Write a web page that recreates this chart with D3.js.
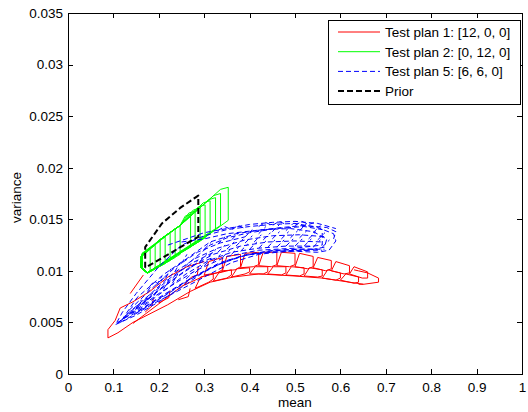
<!DOCTYPE html>
<html>
<head>
<meta charset="utf-8">
<script src="https://cdn.jsdelivr.net/npm/d3@7"></script>
<style>
  body { margin: 0; background: #fff; }
  text { font-family: 'Liberation Sans', Arial, sans-serif; fill: #000; }
</style>
</head>
<body>
<div id="chart"></div>
<script>
const xTicks = [0, 0.1, 0.2, 0.3, 0.4, 0.5, 0.6, 0.7, 0.8, 0.9, 1]
const yTicks = [0, 0.005, 0.01, 0.015, 0.02, 0.025, 0.03, 0.035]
const xLabel = 'mean'
const yLabel = 'variance'

const seriesNames = ['Test plan 1: [12, 0, 0]', 'Test plan 2: [0, 12, 0]', 'Test plan 5: [6, 6, 0]', 'Prior']

// each string is one outline: "mean,variance mean,variance ..."
const plan1Paths = [
  '0.110,0.0040 0.088,0.0035 0.088,0.0043 0.104,0.0052 0.115,0.0064 0.143,0.0070',
  '0.110,0.0040 0.143,0.0050 0.219,0.0067 0.269,0.0080 0.313,0.0089 0.364,0.0094 0.420,0.0097 0.500,0.0095 0.560,0.0093 0.620,0.0089 0.651,0.0087',
  '0.137,0.0078 0.166,0.0096',
  '0.143,0.0049 0.200,0.0068 0.250,0.0085 0.300,0.0095 0.346,0.0100',
  '0.143,0.0070 0.180,0.0080 0.220,0.0094 0.262,0.0104 0.300,0.0109',
  '0.243,0.0072 0.265,0.0075 0.269,0.0083',
  '0.200,0.0069 0.222,0.0074 0.225,0.0081',
  '0.170,0.0060 0.185,0.0066 0.188,0.0073',
  '0.255,0.0086 0.272,0.0094 0.285,0.0096 0.287,0.0104',
  '0.300,0.0096 0.310,0.0109 0.340,0.0113 0.340,0.0101 0.328,0.0098 0.300,0.0096',
  '0.340,0.0100 0.350,0.0114 0.380,0.0116 0.380,0.0104 0.368,0.0101 0.340,0.0100',
  '0.380,0.0103 0.390,0.0117 0.420,0.0118 0.420,0.0106 0.408,0.0104 0.380,0.0103',
  '0.420,0.0105 0.430,0.0118 0.460,0.0118 0.460,0.0106 0.448,0.0104 0.420,0.0105',
  '0.460,0.0105 0.470,0.0118 0.500,0.0117 0.500,0.0106 0.488,0.0104 0.460,0.0105',
  '0.500,0.0104 0.510,0.0117 0.540,0.0114 0.540,0.0104 0.528,0.0102 0.500,0.0104',
  '0.540,0.0103 0.550,0.0113 0.580,0.0110 0.580,0.0102 0.568,0.0100 0.540,0.0103',
  '0.580,0.0100 0.590,0.0109 0.620,0.0105 0.620,0.0098 0.608,0.0097 0.580,0.0100',
  '0.620,0.0097 0.630,0.0104 0.660,0.0099 0.660,0.0093 0.648,0.0093 0.620,0.0097',
  '0.280,0.0083 0.292,0.0094 0.320,0.0097 0.320,0.0092 0.310,0.0089 0.280,0.0083',
  '0.320,0.0090 0.332,0.0098 0.360,0.0101 0.360,0.0096 0.350,0.0093 0.320,0.0090',
  '0.360,0.0094 0.372,0.0102 0.400,0.0103 0.400,0.0099 0.390,0.0097 0.360,0.0094',
  '0.400,0.0097 0.412,0.0104 0.440,0.0104 0.440,0.0099 0.430,0.0097 0.400,0.0097',
  '0.440,0.0097 0.452,0.0104 0.480,0.0104 0.480,0.0098 0.470,0.0096 0.440,0.0097',
  '0.480,0.0096 0.492,0.0104 0.520,0.0103 0.520,0.0097 0.510,0.0095 0.480,0.0096',
  '0.520,0.0095 0.532,0.0103 0.560,0.0101 0.560,0.0095 0.550,0.0094 0.520,0.0095',
  '0.560,0.0093 0.572,0.0101 0.600,0.0098 0.600,0.0093 0.590,0.0091 0.560,0.0093',
  '0.600,0.0091 0.612,0.0097 0.640,0.0094 0.640,0.0089 0.630,0.0088 0.600,0.0091',
  '0.630,0.0101 0.640,0.0100 0.660,0.0098 0.684,0.0093 0.684,0.0089 0.651,0.0087 0.640,0.0087'
]

const plan2Paths = [
  '0.161,0.0103 0.161,0.0113 0.181,0.0121 0.181,0.0100 0.174,0.0098 0.161,0.0103',
  '0.161,0.0103 0.161,0.0114 0.192,0.0125 0.192,0.0102 0.174,0.0098 0.161,0.0103',
  '0.162,0.0103 0.162,0.0115 0.203,0.0129 0.203,0.0105 0.174,0.0098 0.162,0.0103',
  '0.162,0.0103 0.162,0.0116 0.214,0.0133 0.214,0.0107 0.175,0.0098 0.162,0.0103',
  '0.163,0.0103 0.163,0.0116 0.225,0.0137 0.225,0.0110 0.175,0.0098 0.163,0.0103',
  '0.163,0.0103 0.163,0.0117 0.236,0.0141 0.236,0.0113 0.176,0.0098 0.163,0.0103',
  '0.164,0.0103 0.164,0.0117 0.247,0.0144 0.247,0.0116 0.176,0.0098 0.164,0.0103',
  '0.161,0.0103 0.161,0.0114 0.205,0.0131 0.247,0.0144 0.258,0.0153 0.270,0.0155 0.270,0.0123 0.174,0.0098 0.161,0.0103',
  '0.161,0.0103 0.161,0.0114 0.205,0.0131 0.247,0.0144 0.266,0.0156 0.280,0.0158 0.280,0.0126 0.174,0.0098 0.161,0.0103',
  '0.161,0.0103 0.161,0.0114 0.205,0.0131 0.247,0.0144 0.276,0.0159 0.291,0.0161 0.291,0.0129 0.174,0.0098 0.161,0.0103',
  '0.161,0.0103 0.161,0.0114 0.205,0.0131 0.247,0.0144 0.287,0.0162 0.302,0.0164 0.302,0.0132 0.174,0.0098 0.161,0.0103',
  '0.161,0.0103 0.161,0.0114 0.205,0.0131 0.247,0.0144 0.298,0.0166 0.313,0.0168 0.313,0.0136 0.174,0.0098 0.161,0.0103',
  '0.161,0.0103 0.161,0.0114 0.205,0.0131 0.247,0.0144 0.310,0.0169 0.325,0.0171 0.325,0.0140 0.174,0.0098 0.161,0.0103',
  '0.161,0.0103 0.161,0.0114 0.205,0.0131 0.247,0.0144 0.321,0.0173 0.336,0.0175 0.336,0.0144 0.174,0.0098 0.161,0.0103',
  '0.161,0.0103 0.161,0.0114 0.205,0.0131 0.247,0.0144 0.336,0.0179 0.353,0.0181 0.353,0.0149 0.291,0.0129 0.174,0.0098 0.161,0.0103'
]

const plan5Paths = [
  '0.105,0.0048 0.150,0.0057 0.200,0.0070 0.250,0.0084 0.300,0.0099 0.350,0.0110 0.400,0.0116 0.450,0.0118 0.500,0.0119 0.550,0.0118 0.575,0.0120 0.590,0.0129 0.585,0.0136 0.550,0.0142 0.500,0.0146 0.450,0.0145 0.400,0.0143 0.350,0.0140 0.300,0.0134 0.250,0.0125 0.200,0.0104 0.150,0.0078 0.120,0.0060 0.105,0.0048',
  '0.115,0.0050 0.196,0.0070 0.253,0.0083 0.313,0.0097 0.360,0.0108 0.420,0.0116 0.480,0.0119 0.530,0.0120 0.565,0.0123 0.570,0.0131 0.540,0.0138 0.490,0.0141 0.430,0.0140 0.370,0.0136 0.313,0.0128 0.262,0.0112 0.209,0.0096 0.152,0.0074 0.115,0.0050',
  '0.108,0.0049 0.165,0.0069 0.218,0.0088 0.262,0.0106 0.313,0.0125 0.350,0.0132 0.400,0.0137 0.460,0.0141 0.520,0.0143 0.560,0.0140 0.560,0.0125 0.500,0.0122 0.420,0.0120 0.350,0.0114 0.280,0.0100 0.200,0.0078 0.108,0.0049',
  '0.220,0.0125 0.260,0.0131 0.300,0.0137 0.350,0.0141 0.400,0.0145 0.450,0.0147 0.500,0.0148 0.550,0.0146 0.590,0.0141',
  '0.250,0.0128 0.300,0.0131 0.350,0.0136 0.410,0.0139 0.470,0.0142 0.520,0.0144 0.570,0.0142 0.590,0.0138 0.585,0.0131',
  '0.140,0.0057 0.200,0.0074 0.260,0.0090 0.320,0.0104 0.380,0.0114 0.440,0.0119 0.500,0.0121 0.550,0.0121',
  '0.150,0.0059 0.210,0.0075 0.270,0.0092 0.330,0.0106 0.390,0.0115 0.450,0.0119 0.510,0.0120 0.560,0.0120',
  '0.155,0.0061 0.215,0.0077 0.275,0.0094 0.335,0.0108 0.395,0.0116 0.455,0.0120 0.515,0.0121 0.565,0.0121',
  '0.110,0.0050 0.160,0.0064 0.210,0.0080 0.260,0.0097 0.310,0.0110 0.360,0.0118 0.420,0.0122 0.480,0.0124 0.540,0.0124',
  '0.120,0.0053 0.170,0.0070 0.220,0.0088 0.270,0.0104 0.320,0.0116 0.380,0.0124 0.440,0.0128 0.500,0.0129 0.560,0.0128',
  '0.130,0.0058 0.180,0.0077 0.230,0.0097 0.280,0.0112 0.330,0.0122 0.390,0.0130 0.450,0.0134 0.510,0.0135 0.570,0.0133',
  '0.125,0.0056 0.175,0.0074 0.225,0.0093 0.275,0.0108 0.325,0.0119',
  '0.135,0.0062 0.185,0.0083 0.235,0.0103 0.285,0.0118 0.335,0.0127 0.390,0.0133',
  '0.160,0.0067 0.200,0.0081 0.240,0.0094 0.280,0.0106 0.320,0.0113',
  '0.180,0.0085 0.190,0.0090 0.200,0.0087 0.210,0.0093 0.220,0.0091',
  '0.330,0.0139 0.345,0.0143 0.360,0.0140 0.375,0.0144 0.390,0.0141',
  '0.420,0.0143 0.435,0.0147 0.450,0.0144 0.465,0.0148 0.480,0.0145',
  '0.500,0.0144 0.515,0.0148 0.530,0.0145 0.545,0.0147',
  '0.150,0.0064 0.162,0.0072', '0.170,0.0070 0.182,0.0078', '0.190,0.0076 0.202,0.0085', '0.210,0.0082 0.222,0.0091',
  '0.230,0.0088 0.242,0.0097', '0.175,0.0080 0.187,0.0088', '0.195,0.0086 0.207,0.0095', '0.215,0.0093 0.227,0.0102',
  '0.235,0.0099 0.247,0.0108', '0.250,0.0107 0.262,0.0116',
  '0.260,0.0092 0.276,0.0099', '0.280,0.0098 0.296,0.0105', '0.300,0.0105 0.316,0.0112', '0.320,0.0109 0.336,0.0116',
  '0.340,0.0113 0.356,0.0120', '0.360,0.0116 0.376,0.0123', '0.380,0.0119 0.396,0.0126', '0.400,0.0121 0.416,0.0128',
  '0.420,0.0122 0.436,0.0129', '0.440,0.0123 0.456,0.0130', '0.460,0.0123 0.476,0.0130', '0.480,0.0124 0.496,0.0131',
  '0.500,0.0124 0.516,0.0131', '0.520,0.0124 0.536,0.0131', '0.540,0.0123 0.556,0.0130', '0.560,0.0123 0.576,0.0130',
  '0.270,0.0103 0.286,0.0110', '0.290,0.0109 0.306,0.0116', '0.310,0.0114 0.326,0.0121', '0.330,0.0118 0.346,0.0125',
  '0.350,0.0121 0.366,0.0128', '0.370,0.0124 0.386,0.0131', '0.390,0.0127 0.406,0.0134', '0.410,0.0128 0.426,0.0135',
  '0.430,0.0130 0.446,0.0137', '0.450,0.0131 0.466,0.0138', '0.470,0.0131 0.486,0.0138', '0.490,0.0132 0.506,0.0139',
  '0.510,0.0132 0.526,0.0139', '0.530,0.0131 0.546,0.0138', '0.550,0.0130 0.566,0.0137',
  '0.300,0.0121 0.316,0.0128', '0.330,0.0126 0.346,0.0133', '0.360,0.0130 0.376,0.0137', '0.390,0.0133 0.406,0.0140',
  '0.420,0.0136 0.436,0.0143', '0.450,0.0138 0.466,0.0145', '0.480,0.0139 0.496,0.0146', '0.510,0.0139 0.526,0.0146',
  '0.540,0.0137 0.556,0.0144'
]

const priorPath = '0.170,0.0103 0.170,0.0123 0.207,0.0146 0.247,0.0161 0.287,0.0173 0.287,0.0133 0.170,0.0103'

const width = 528
const height = 412
const margin = { top: 13, right: 6, bottom: 38, left: 68 }
const fontSize = '13.5px'

const parse = s => s.trim().split(/\s+/).map(p => p.split(',').map(Number))

const svg = d3.select('#chart')
  .append('svg')
    .attr('width', width)
    .attr('height', height)

svg.append('rect')
  .attr('width', width)
  .attr('height', height)
  .attr('fill', '#fff')

const x = d3.scaleLinear().domain([0, 1]).range([margin.left, width - margin.right])
const y = d3.scaleLinear().domain([0, 0.035]).range([height - margin.bottom, margin.top])

const line = d3.line()
  .x(d => x(d[0]))
  .y(d => y(d[1]))

svg.append('defs').append('clipPath')
    .attr('id', 'plot-clip')
  .append('rect')
    .attr('x', x(0))
    .attr('y', y(0.035))
    .attr('width', x(1) - x(0))
    .attr('height', y(0) - y(0.035))

const plot = svg.append('g').attr('clip-path', 'url(#plot-clip)')

const series = [
  { paths: plan1Paths, color: '#ff0000', width: 1, dash: null },
  { paths: plan2Paths, color: '#00ff00', width: 1, dash: null },
  { paths: plan5Paths, color: '#0000ff', width: 1, dash: '5,3' },
  { paths: [priorPath], color: '#000000', width: 2, dash: '6,3' }
]

series.forEach(s => {
  plot.append('g')
    .selectAll('path')
    .data(s.paths.map(parse))
    .enter().append('path')
      .attr('d', line)
      .attr('fill', 'none')
      .attr('stroke', s.color)
      .attr('stroke-width', s.width)
      .attr('stroke-dasharray', s.dash)
      .attr('stroke-linejoin', 'round')
})

// axes, ticks pointing inward on all four sides
svg.append('g')
  .attr('transform', `translate(0,${y(0)})`)
  .call(d3.axisBottom(x).tickValues(xTicks).tickSizeInner(-5).tickSizeOuter(0).tickPadding(8).tickFormat(d3.format('')))
svg.append('g')
  .attr('transform', `translate(0,${y(0.035)})`)
  .call(d3.axisTop(x).tickValues(xTicks).tickSizeInner(-5).tickSizeOuter(0).tickFormat(''))
svg.append('g')
  .attr('transform', `translate(${x(0)},0)`)
  .call(d3.axisLeft(y).tickValues(yTicks).tickSizeInner(-5).tickSizeOuter(0).tickPadding(5).tickFormat(d3.format('')))
svg.append('g')
  .attr('transform', `translate(${x(1)},0)`)
  .call(d3.axisRight(y).tickValues(yTicks).tickSizeInner(-5).tickSizeOuter(0).tickFormat(''))

svg.selectAll('.domain').remove()
svg.selectAll('.tick line').attr('stroke', '#000').attr('shape-rendering', 'crispEdges')
svg.selectAll('.tick text')
  .style('font-family', "'Liberation Sans', Arial, sans-serif")
  .style('font-size', fontSize)
  .attr('fill', '#000')

svg.append('rect')
  .attr('x', x(0))
  .attr('y', y(0.035))
  .attr('width', x(1) - x(0))
  .attr('height', y(0) - y(0.035))
  .attr('fill', 'none')
  .attr('stroke', '#000')
  .attr('stroke-width', 1)
  .attr('shape-rendering', 'crispEdges')

svg.append('text')
  .attr('x', (x(0) + x(1)) / 2)
  .attr('y', height - 5)
  .attr('text-anchor', 'middle')
  .style('font-size', fontSize)
  .text(xLabel)

svg.append('text')
  .attr('transform', `translate(21,${(y(0) + y(0.035)) / 2 + 4}) rotate(-90)`)
  .attr('text-anchor', 'middle')
  .style('font-size', fontSize)
  .text(yLabel)

// legend
const legend = svg.append('g').attr('transform', 'translate(328,20)')
legend.append('rect')
  .attr('width', 192)
  .attr('height', 84)
  .attr('fill', '#fff')
  .attr('stroke', '#000')
  .attr('shape-rendering', 'crispEdges')

const rows = legend.selectAll('g.row')
  .data(series)
  .enter().append('g')
    .attr('class', 'row')
    .attr('transform', (d, i) => `translate(0,${12 + i * 19.7})`)

rows.append('line')
  .attr('x1', 10)
  .attr('x2', 52)
  .attr('stroke', d => d.color)
  .attr('stroke-width', d => d.width)
  .attr('stroke-dasharray', d => d.dash)

rows.append('text')
  .attr('x', 57)
  .attr('dy', '0.36em')
  .style('font-size', fontSize)
  .text((d, i) => seriesNames[i])
</script>
</body>
</html>
